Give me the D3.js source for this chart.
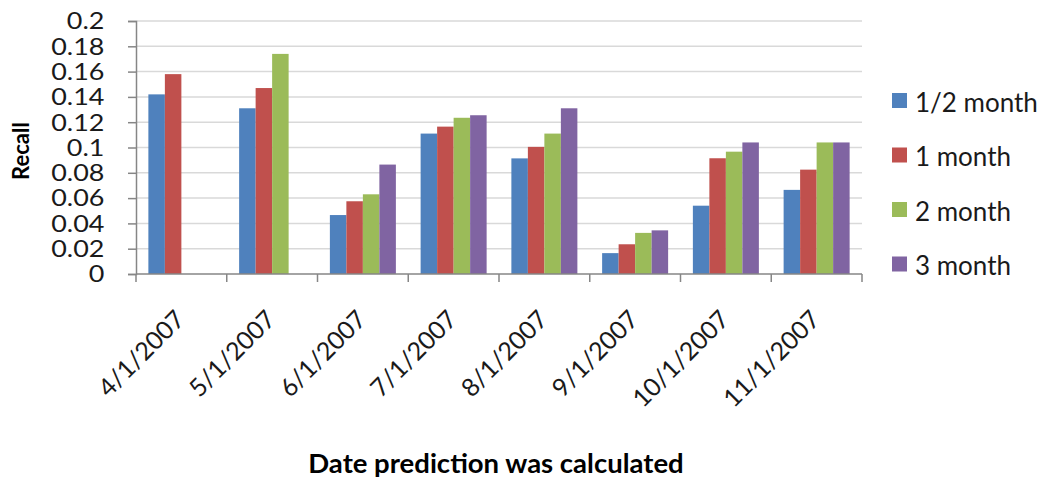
<!DOCTYPE html>
<html><head><meta charset="utf-8">
<script src="https://cdn.jsdelivr.net/npm/d3@7"></script>
<style>body{margin:0;background:#fff;}svg{display:block;font-family:Lato,"Open Sans",sans-serif;}</style>
</head><body>
<svg id="c" width="1044" height="479"></svg>
<script>
const categories = ["4/1/2007","5/1/2007","6/1/2007","7/1/2007","8/1/2007","9/1/2007","10/1/2007","11/1/2007"];
const seriesNames = ["1/2 month","1 month","2 month","3 month"];
const halfMonth = [0.142, 0.131, 0.0466, 0.111, 0.0914, 0.0165, 0.054, 0.0665];
const oneMonth  = [0.158, 0.147, 0.0575, 0.1165, 0.1005, 0.0235, 0.0915, 0.0825];
const twoMonth  = [null, 0.174, 0.063, 0.1235, 0.111, 0.0325, 0.0967, 0.104];
const threeMonth= [null, null, 0.0865, 0.1255, 0.131, 0.0345, 0.104, 0.104];
const yTicks = [0,0.02,0.04,0.06,0.08,0.1,0.12,0.14,0.16,0.18,0.2];
const colors = ["#4F81BD","#C0504D","#9BBB59","#8064A2"];
const series = [halfMonth, oneMonth, twoMonth, threeMonth];

const svg = d3.select("#c");
const L=136, R=862, T=21, B=274;
const x = d3.scaleBand().domain(categories).range([L,R]).paddingInner(0).paddingOuter(0);
const y = d3.scaleLinear().domain([0,0.2]).range([B,T]);
const bw = x.bandwidth()/5.5;
const xs = d3.scaleBand().domain(seriesNames).range([0,4*bw]);
const textCol = "#1a1a1a";

// gridlines
svg.append("g").selectAll("line").data(yTicks.slice(1)).join("line")
  .attr("x1",L).attr("x2",R).attr("y1",d=>y(d)).attr("y2",d=>y(d))
  .attr("stroke","#d9d9d9").attr("stroke-width",1.5);

// bars
series.forEach((vals,si)=>{
  svg.append("g").selectAll("rect").data(categories.map((c,i)=>({c,v:vals[i]})).filter(d=>d.v!=null))
    .join("rect")
    .attr("x",d=>x(d.c)+0.75*bw+xs(seriesNames[si]))
    .attr("width",bw)
    .attr("y",d=>y(d.v))
    .attr("height",d=>B-y(d.v))
    .attr("fill",colors[si]);
});

// y axis
const yAxis = svg.append("g").attr("transform",`translate(${L},0)`)
  .call(d3.axisLeft(y).tickValues(yTicks).tickSize(8).tickPadding(19).tickFormat(d=>String(+d.toFixed(2))));
yAxis.select(".domain").attr("stroke","#868686").attr("stroke-width",1.5);
yAxis.selectAll(".tick line").attr("stroke","#868686").attr("stroke-width",1.5);
yAxis.selectAll("text").attr("font-size",23).attr("fill",textCol).attr("font-family","Lato,'Open Sans',sans-serif")
  .attr("transform","scale(1.17,1)").attr("dy","0.34em");

// x axis
const xAxis = svg.append("g").attr("transform",`translate(0,${B})`);
xAxis.append("line").attr("x1",L).attr("x2",R).attr("stroke","#868686").attr("stroke-width",1.5);
const bounds = categories.map(c=>x(c)).concat([R]);
xAxis.selectAll("line.t").data(bounds).join("line").attr("class","t")
  .attr("x1",d=>d).attr("x2",d=>d).attr("y1",0).attr("y2",8)
  .attr("stroke","#868686").attr("stroke-width",1.5);
xAxis.selectAll("text").data(categories).join("text")
  .attr("transform",d=>`translate(${x(d)+x.bandwidth()/2+5},${47}) rotate(-45)`)
  .attr("text-anchor","end").attr("font-size",25).attr("fill",textCol)
  .text(d=>d);

// titles
svg.append("text").attr("transform","translate(29,151) rotate(-90)")
  .attr("text-anchor","middle").attr("font-weight","bold").attr("font-size",22).attr("fill","#000").text("Recall");
svg.append("text").attr("x",496).attr("y",473).attr("text-anchor","middle")
  .attr("font-size",27.5).attr("font-weight","bold").attr("fill","#000").text("Date prediction was calculated");

// legend
const lg = svg.append("g").attr("transform","translate(892,0)");
seriesNames.forEach((n,i)=>{
  const cy = 100.5 + i*54.5;
  lg.append("rect").attr("x",0).attr("y",cy-7.5).attr("width",15).attr("height",15).attr("fill",colors[i]);
  lg.append("text").attr("x",23).attr("y",cy+11).attr("font-size",26).attr("fill",textCol).text(n);
});
</script>
</body></html>
